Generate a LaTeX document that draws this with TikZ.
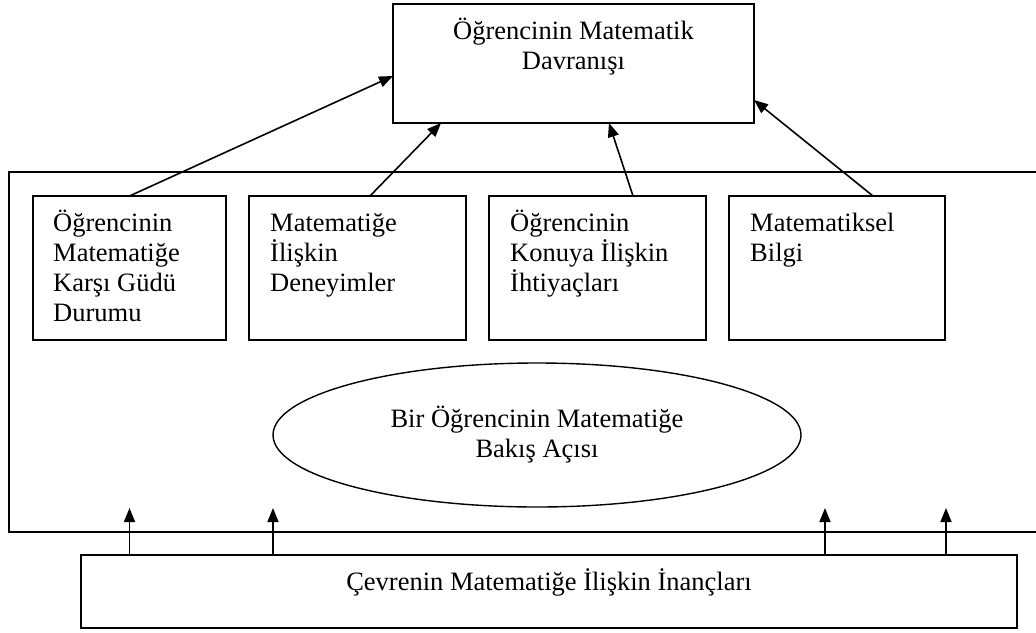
\documentclass[tikz,border=0pt]{standalone}
\usepackage{fontspec}
\setmainfont{Liberation Serif}
\usetikzlibrary{arrows.meta,shapes.geometric}
\newcommand{\topstrut}{\rule{0pt}{25pt}}
\begin{document}
\begin{tikzpicture}[x=1pt,y=-1pt,
        kutu/.style={rectangle,draw=black,line width=1.7pt,anchor=north west,inner sep=0pt,outer sep=0pt},
        yazi/.style={font=\fontsize{26.5}{30}\selectfont,inner sep=0pt,align=left,anchor=north west},
        ok/.style={line width=1.6pt,-{Triangle[length=14pt,width=11pt]}}]
        \useasboundingbox (0,0) rectangle (1036,632);
        \node[kutu,minimum width=1040pt,minimum height=360pt] (bakis) at (9,172) {};
        \node[kutu,minimum width=361pt,minimum height=119pt] (davranis) at (393,4) {};
        \node[kutu,minimum width=193pt,minimum height=144pt] (g1) at (33,196) {};
        \node[kutu,minimum width=217pt,minimum height=144pt] (g2) at (249,196) {};
        \node[kutu,minimum width=217pt,minimum height=144pt] (g3) at (489,196) {};
        \node[kutu,minimum width=216pt,minimum height=144pt] (g4) at (729,196) {};
        \node[kutu,minimum width=936pt,minimum height=73pt] (cevre) at (81,555) {};
        \node[ellipse,draw=black,line width=1.4pt,minimum width=528pt,minimum height=144pt,inner sep=0pt,
              font=\fontsize{26.5}{30}\selectfont,align=center] (aci) at (537,435) {Bir Öğrencinin Matematiğe\\Bakış Açısı};
        \node[yazi,anchor=north,align=center] (davranisyazi) at ([yshift=-10pt]davranis.north) {\topstrut Öğrencinin Matematik\\Davranışı};
        \node[yazi] (g1yazi) at ([shift={(20pt,-10pt)}]g1.north west) {\topstrut Öğrencinin\\Matematiğe\\Karşı Güdü\\Durumu};
        \node[yazi] (g2yazi) at ([shift={(21pt,-10pt)}]g2.north west) {\topstrut Matematiğe\\İlişkin\\Deneyimler};
        \node[yazi] (g3yazi) at ([shift={(21pt,-10pt)}]g3.north west) {\topstrut Öğrencinin\\Konuya İlişkin\\İhtiyaçları};
        \node[yazi] (g4yazi) at ([shift={(21pt,-10pt)}]g4.north west) {\topstrut Matematiksel\\Bilgi};
        \node[yazi,anchor=base] (cevreyazi) at (549,590) {Çevrenin Matematiğe İlişkin İnançları};
        \draw[ok] (g1.north) -- ([yshift=-12.5pt]davranis.west);
        \draw[ok] ([xshift=12.5pt]g2.north) -- ([xshift=48pt]davranis.south west);
        \draw[ok] ([xshift=35.5pt]g3.north) -- ([xshift=216pt]davranis.south west);
        \draw[ok] ([xshift=36pt]g4.north) -- ([yshift=-36.5pt]davranis.east);
        \foreach \a/\b in {48.5/120.5, 192/264, 744/816, 865/937}
            \draw[ok] ([xshift=\a pt]cevre.north west) -- ([xshift=\b pt,yshift=24pt]bakis.south west);
\end{tikzpicture}
\end{document}
